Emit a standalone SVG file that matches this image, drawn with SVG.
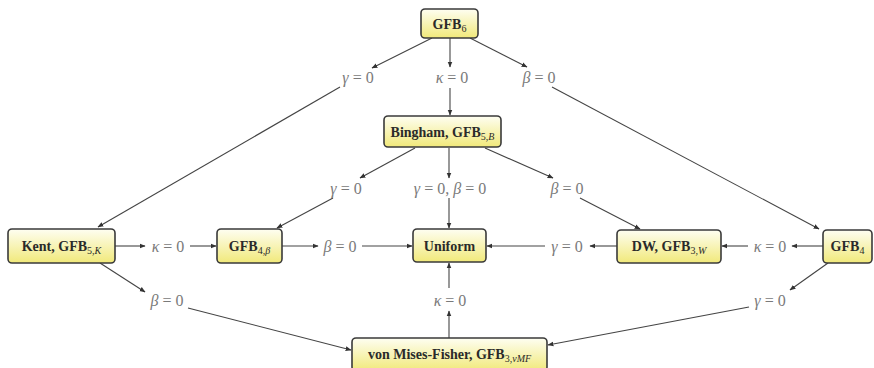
<svg xmlns="http://www.w3.org/2000/svg" width="874" height="368" viewBox="0 0 874 368">
<defs>
<linearGradient id="yg" x1="0" y1="0" x2="0" y2="1">
<stop offset="0" stop-color="#fefef2"/>
<stop offset="1" stop-color="#f1e97a"/>
</linearGradient>
<marker id="ah" viewBox="0 0 10 10" refX="9" refY="5" markerWidth="6" markerHeight="6" orient="auto" markerUnits="userSpaceOnUse">
<path d="M0,1 L10,5 L0,9 z" fill="#333"/>
</marker>
<style>
.box{fill:url(#yg);stroke:#3a3a3a;stroke-width:1.6}
.nt{font-family:"Liberation Serif",serif;font-weight:bold;font-size:14px;fill:#2a2a2a;text-anchor:middle}
.sub{font-size:10px;font-weight:normal}
.lb{font-family:"Liberation Serif",serif;font-size:16px;fill:#7a7a7a;text-anchor:middle}
.it{font-style:italic}
.e{stroke:#444;stroke-width:1.1;fill:none;marker-end:url(#ah)}
</style>
</defs>
<rect width="874" height="368" fill="#fff"/>
<g id="connectors">
<line class="e" x1="432" y1="38" x2="372" y2="68"/>
<line class="e" x1="340" y1="87" x2="98" y2="227"/>
<line class="e" x1="450" y1="38" x2="450" y2="67"/>
<line class="e" x1="450" y1="88" x2="450" y2="115"/>
<line class="e" x1="470" y1="38" x2="527" y2="67"/>
<line class="e" x1="552" y1="87" x2="819" y2="229"/>
<line class="e" x1="415" y1="148" x2="360" y2="178"/>
<line class="e" x1="333" y1="198" x2="277" y2="228"/>
<line class="e" x1="449" y1="148" x2="449" y2="178"/>
<line class="e" x1="449" y1="198" x2="449" y2="228"/>
<line class="e" x1="485" y1="148" x2="553" y2="178"/>
<line class="e" x1="580" y1="198" x2="640" y2="229"/>
<line class="e" x1="115" y1="246" x2="145" y2="246"/>
<line class="e" x1="190" y1="246" x2="216" y2="246"/>
<line class="e" x1="282" y1="246" x2="318" y2="246"/>
<line class="e" x1="362" y1="246" x2="412" y2="246"/>
<line class="e" x1="617" y1="246" x2="590" y2="246"/>
<line class="e" x1="545" y1="246" x2="487" y2="246"/>
<line class="e" x1="823" y1="246" x2="792" y2="246"/>
<line class="e" x1="748" y1="246" x2="722" y2="246"/>
<line class="e" x1="100" y1="263" x2="145" y2="292"/>
<line class="e" x1="188" y1="308" x2="351" y2="350"/>
<line class="e" x1="449" y1="338" x2="449" y2="311"/>
<line class="e" x1="449" y1="288" x2="449" y2="263"/>
<line class="e" x1="828" y1="263" x2="790" y2="290"/>
<line class="e" x1="749" y1="307" x2="548" y2="345"/>
</g>
<g id="labels">
<text class="lb" x="358" y="83"><tspan class="it">γ</tspan> = 0</text>
<text class="lb" x="452" y="83"><tspan class="it">κ</tspan> = 0</text>
<text class="lb" x="539" y="83"><tspan class="it">β</tspan> = 0</text>
<text class="lb" x="346" y="194"><tspan class="it">γ</tspan> = 0</text>
<text class="lb" x="450" y="194"><tspan class="it">γ</tspan> = 0, <tspan class="it">β</tspan> = 0</text>
<text class="lb" x="567" y="194"><tspan class="it">β</tspan> = 0</text>
<text class="lb" x="168" y="252"><tspan class="it">κ</tspan> = 0</text>
<text class="lb" x="340" y="252"><tspan class="it">β</tspan> = 0</text>
<text class="lb" x="567" y="252"><tspan class="it">γ</tspan> = 0</text>
<text class="lb" x="770" y="252"><tspan class="it">κ</tspan> = 0</text>
<text class="lb" x="167" y="306"><tspan class="it">β</tspan> = 0</text>
<text class="lb" x="450" y="306"><tspan class="it">κ</tspan> = 0</text>
<text class="lb" x="770" y="306"><tspan class="it">γ</tspan> = 0</text>
</g>
<g id="gfb6"><rect class="box" x="421" y="9" width="57" height="29" rx="4"/><text class="nt" x="449.5" y="28.5">GFB<tspan class="sub" dy="3">6</tspan></text></g>
<g id="bingham"><rect class="box" x="384" y="116" width="117" height="31" rx="4"/><text class="nt" x="442.5" y="136.5">Bingham, GFB<tspan class="sub" dy="3">5,<tspan class="it">B</tspan></tspan></text></g>
<g id="kent"><rect class="box" x="8" y="229" width="107" height="34" rx="4"/><text class="nt" x="61.5" y="250.5">Kent, GFB<tspan class="sub" dy="3">5,<tspan class="it">K</tspan></tspan></text></g>
<g id="gfb4beta"><rect class="box" x="217" y="229" width="65" height="34" rx="4"/><text class="nt" x="249.5" y="250.5">GFB<tspan class="sub" dy="3">4,<tspan class="it">β</tspan></tspan></text></g>
<g id="uniform"><rect class="box" x="413" y="229" width="73" height="33" rx="4"/><text class="nt" x="449.5" y="250.5">Uniform</text></g>
<g id="dw"><rect class="box" x="617" y="230" width="104" height="33" rx="4"/><text class="nt" x="669" y="251">DW, GFB<tspan class="sub" dy="3">3,<tspan class="it">W</tspan></tspan></text></g>
<g id="gfb4"><rect class="box" x="823" y="230" width="49" height="33" rx="4"/><text class="nt" x="847.5" y="251">GFB<tspan class="sub" dy="3">4</tspan></text></g>
<g id="vmf"><rect class="box" x="352" y="338" width="195" height="33" rx="4"/><text class="nt" x="449.5" y="359">von Mises-Fisher, GFB<tspan class="sub" dy="3">3,<tspan class="it">vMF</tspan></tspan></text></g>
</svg>
